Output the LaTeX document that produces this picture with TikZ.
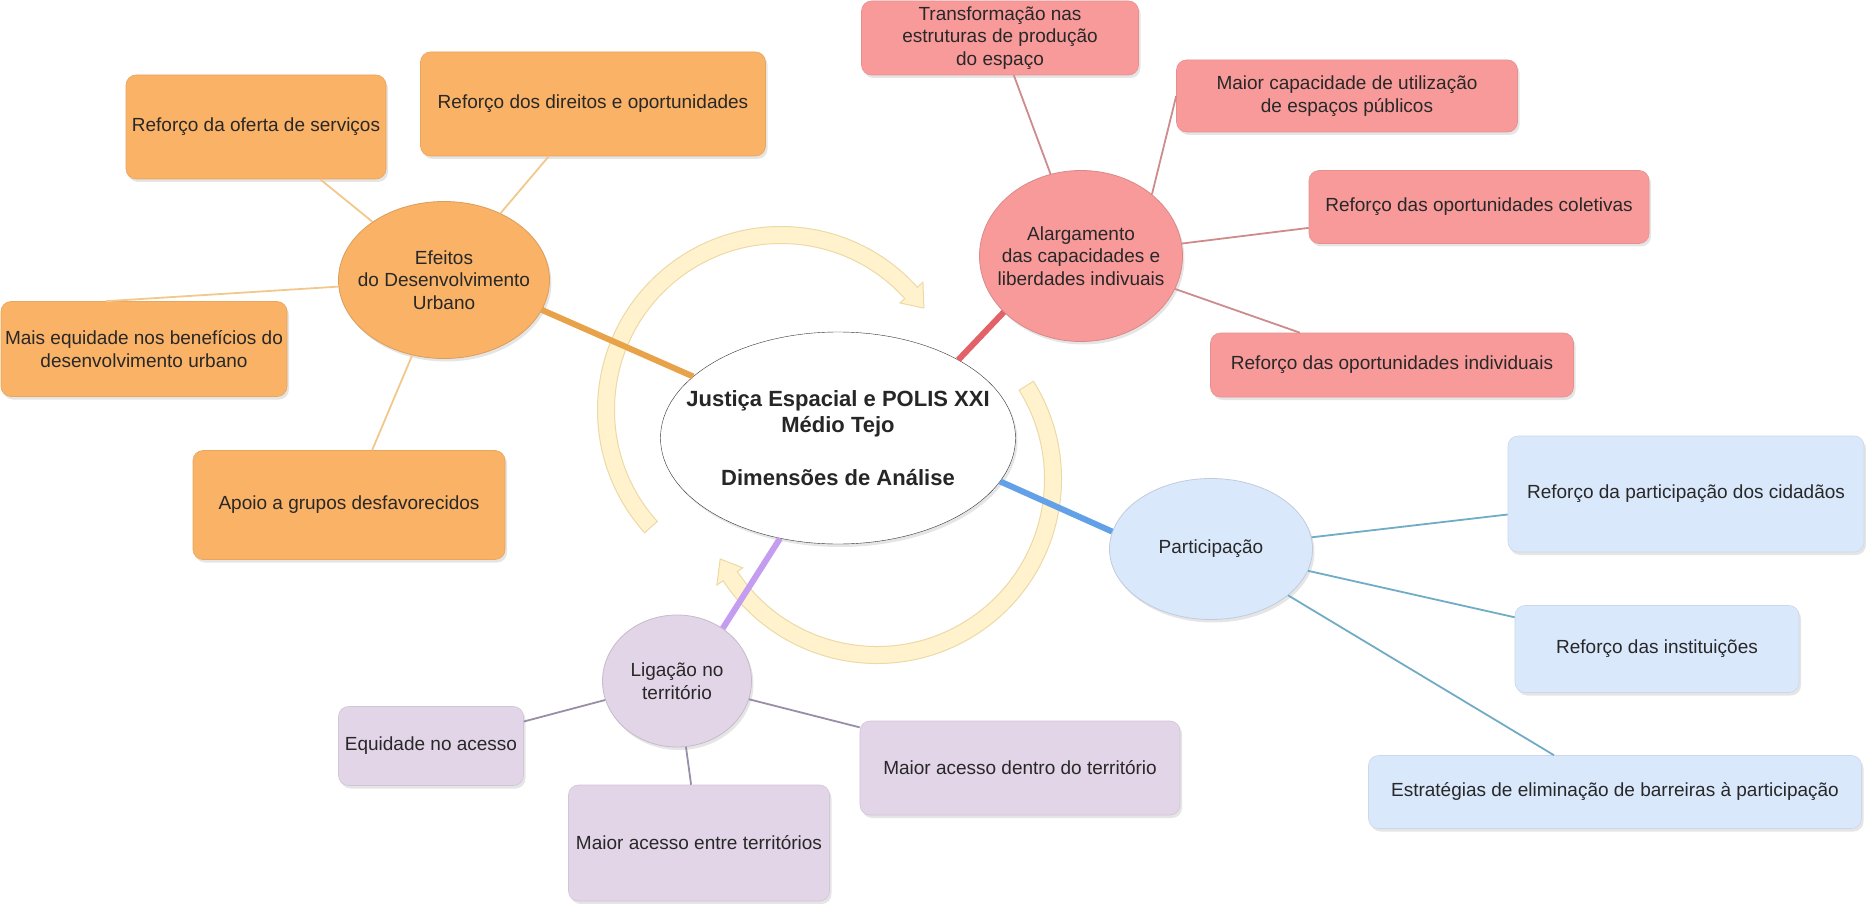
\documentclass[tikz,border=0pt]{standalone}
\usepackage{fontspec}
\setmainfont{Liberation Sans}
\usetikzlibrary{shapes.geometric,shadows}

\definecolor{ofill}{RGB}{250,178,102}
\definecolor{rfill}{RGB}{248,154,154}
\definecolor{bfill}{RGB}{218,232,252}
\definecolor{pfill}{RGB}{225,213,231}
\definecolor{oline}{RGB}{242,200,140}
\definecolor{rline}{RGB}{205,140,140}
\definecolor{bline}{RGB}{112,172,198}
\definecolor{pline}{RGB}{152,142,168}
\definecolor{othick}{RGB}{232,163,74}
\definecolor{rthick}{RGB}{226,98,104}
\definecolor{bthick}{RGB}{98,160,232}
\definecolor{pthick}{RGB}{196,156,240}
\definecolor{cyfill}{RGB}{255,242,204}
\definecolor{cyline}{RGB}{236,218,166}
\definecolor{txt}{RGB}{40,40,40}

\begin{document}
\begin{tikzpicture}[x=1pt,y=1pt,
    every node/.style={font=\fontsize{19}{22.5}\selectfont, text=txt, align=center, inner sep=0pt},
    softshadow/.style={drop shadow={opacity=0.2,shadow xshift=2pt,shadow yshift=-3pt}},
    hub/.style={ellipse, softshadow, draw=#1!88!black, fill=#1, line width=0.8pt},
    leaf/.style={rectangle, rounded corners=10pt, softshadow, draw=#1!93!black, fill=#1, line width=0.6pt},
    spoke/.style={line width=1.8pt, draw=#1},
    trunk/.style={line width=6pt, draw=#1},
    cyclearrow/.style={fill=cyfill, draw=cyline, line width=1pt}]

  \fill[white] (0,0) rectangle (1866,-904);
  \useasboundingbox (0,0) rectangle (1866,-904);

  % cycle arrows round the centre
  \begin{scope}[shift={(781,-410)}]
    \filldraw[cyclearrow] (222:183.5pt) arc[start angle=222, end angle=42, radius=183.5pt]
      -- (42:191pt) -- (35.5:175.5pt) -- (42:160pt) -- (42:166.5pt)
      arc[start angle=42, end angle=222, radius=166.5pt] -- cycle;
  \end{scope}
  \begin{scope}[shift={(877,-479)}]
    \filldraw[cyclearrow] (32:184.5pt) arc[start angle=32, end angle=-146.5, radius=184.5pt]
      -- (-146.5:192pt) -- (-153:176pt) -- (-146.5:161pt) -- (-146.5:167.5pt)
      arc[start angle=-146.5, end angle=32, radius=167.5pt] -- cycle;
  \end{scope}

  % centre
  \node[ellipse, draw=black!80, fill=white, softshadow, minimum width=355pt, minimum height=212pt,
        inner xsep=-35pt, font=\bfseries\fontsize{22}{26}\selectfont, text=black!85] (centro) at (838,-438)
        {Justiça Espacial e POLIS XXI\\Médio Tejo\\[27pt]Dimensões de Análise};

  % hubs
  \node[hub=ofill, minimum width=211pt, minimum height=157pt, inner xsep=-25pt] (efeitos) at (444,-280)
        {Efeitos\\do Desenvolvimento\\Urbano};
  \node[hub=rfill, minimum width=203pt, minimum height=171pt, inner xsep=-25pt] (alarg) at (1081,-256)
        {Alargamento\\das capacidades e\\liberdades indivuais};
  \node[hub=bfill, minimum width=203pt, minimum height=141pt] (partic) at (1211,-549)
        {Participação};
  \node[hub=pfill, minimum width=149pt, minimum height=132pt] (ligacao) at (677,-681)
        {Ligação no\\território};

  % orange leaves
  \node[leaf=ofill, minimum width=260pt, minimum height=104pt] (ofserv) at (256,-127)
        {Reforço da oferta de serviços};
  \node[leaf=ofill, minimum width=345pt, minimum height=104pt] (direit) at (593,-104)
        {Reforço dos direitos e oportunidades};
  \node[leaf=ofill, minimum width=286pt, minimum height=95pt] (equid) at (144,-349)
        {Mais equidade nos benefícios do\\desenvolvimento urbano};
  \node[leaf=ofill, minimum width=312pt, minimum height=109pt] (apoio) at (349,-505)
        {Apoio a grupos desfavorecidos};

  % red leaves
  \node[leaf=rfill, minimum width=277pt, minimum height=74pt] (transf) at (1000,-38)
        {Transformação nas\\estruturas de produção\\do espaço};
  \node[leaf=rfill, minimum width=341pt, minimum height=72pt] (capac) at (1347,-96)
        {Maior capacidade de utilização\\de espaços públicos};
  \node[leaf=rfill, minimum width=340pt, minimum height=73pt] (colet) at (1479,-207)
        {Reforço das oportunidades coletivas};
  \node[leaf=rfill, minimum width=363pt, minimum height=64pt] (indiv) at (1392,-365)
        {Reforço das oportunidades individuais};

  % blue leaves
  \node[leaf=bfill, minimum width=356pt, minimum height=116pt] (cidad) at (1686,-494)
        {Reforço da participação dos cidadãos};
  \node[leaf=bfill, minimum width=284pt, minimum height=87pt] (instit) at (1657,-649)
        {Reforço das instituições};
  \node[leaf=bfill, minimum width=493pt, minimum height=73pt] (barrei) at (1615,-792)
        {Estratégias de eliminação de barreiras à participação};

  % purple leaves
  \node[leaf=pfill, minimum width=185pt, minimum height=79pt] (equac) at (431,-746)
        {Equidade no acesso};
  \node[leaf=pfill, minimum width=261pt, minimum height=116pt] (entre) at (699,-843)
        {Maior acesso entre territórios};
  \node[leaf=pfill, minimum width=320pt, minimum height=94pt] (dentro) at (1020,-768)
        {Maior acesso dentro do território};

  % spokes
  \foreach \leafname in {ofserv,direit,apoio}
    \draw[spoke=oline] (efeitos) -- (\leafname);
  \draw[spoke=oline] (efeitos) -- ([xshift=-38pt]equid.north);
  \foreach \leafname in {transf,colet,indiv}
    \draw[spoke=rline] (alarg) -- (\leafname);
  \draw[spoke=rline] (alarg.41) -- (capac.west);
  \foreach \leafname in {cidad,instit,barrei}
    \draw[spoke=bline] (partic) -- (\leafname);
  \foreach \leafname in {equac,entre,dentro}
    \draw[spoke=pline] (ligacao) -- (\leafname);

  % trunks to the centre
  \draw[trunk=othick] (efeitos.-17) -- (centro.157);
  \draw[trunk=rthick] (alarg.216) -- (centro.33);
  \draw[trunk=bthick] (centro.345) -- (partic.170);
  \draw[trunk=pthick] (centro.240) -- (ligacao.49);
\end{tikzpicture}
\end{document}
